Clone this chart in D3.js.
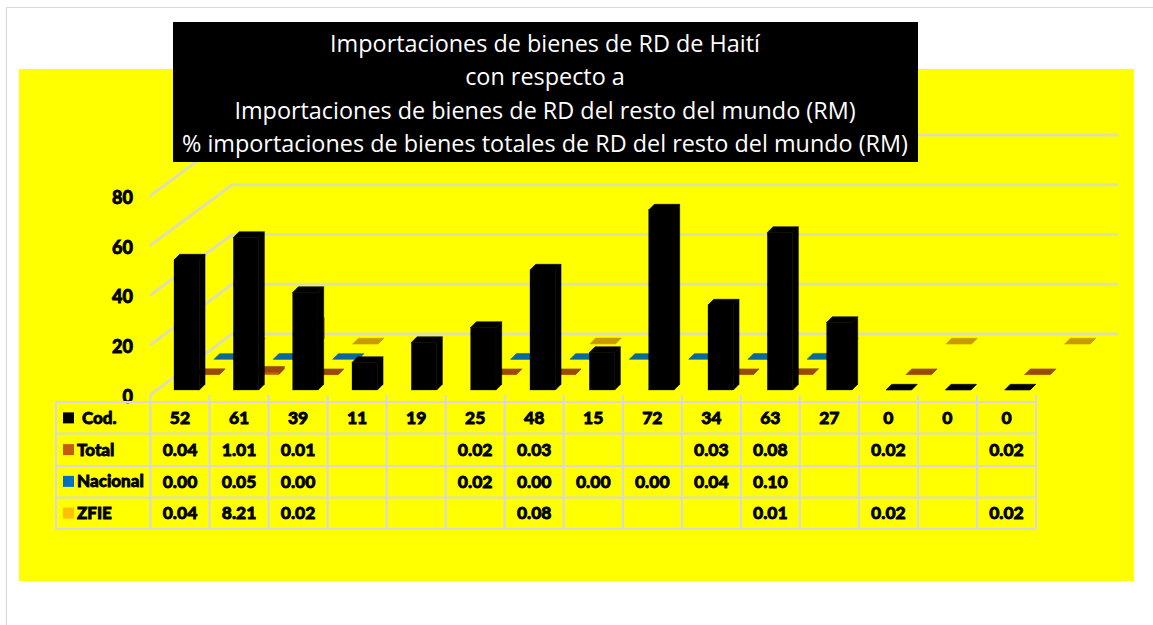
<!DOCTYPE html>
<html><head><meta charset="utf-8">
<script src="https://cdn.jsdelivr.net/npm/d3@7"></script>
<style>html,body{margin:0;background:#fff}svg{display:block}</style>
</head><body><svg id="c" width="1153" height="625"></svg>
<script>
const titleLines=["Importaciones de bienes de RD de Haití","con respecto a","Importaciones de bienes de RD del resto del mundo (RM)","% importaciones de bienes totales de RD del resto del mundo (RM)"];
const seriesNames=["Cod.","Total","Nacional","ZFIE"];
const cod=[52,61,39,11,19,25,48,15,72,34,63,27,0,0,0];
const total=[0.04,1.01,0.01,null,null,0.02,0.03,null,null,0.03,0.08,null,0.02,null,0.02];
const nacional=[0.00,0.05,0.00,null,null,0.02,0.00,0.00,0.00,0.04,0.10,null,null,null,null];
const zfie=[0.04,8.21,0.02,null,null,null,0.08,null,null,null,0.01,null,0.02,null,0.02];
const yTicks=[0,20,40,60,80];
const swatch=["#000000","#c55a11","#0070c0","#ffc000"];
const topCol=["#000000","#9a4a05","#0a6a9c","#c99a00"];
const sideCol=["#000000","#8a4208","#075a88","#b58a00"];
const frontCol=swatch;

const rows=[cod,total,nacional,zfie];
const svg=d3.select("#c");
const F="Lato, Carlito, sans-serif";
// page
svg.append("path").attr("d","M6.5,625V7.5H1153").attr("fill","none").attr("stroke","#d9d9d9").attr("stroke-width",1.2);
svg.append("rect").attr("x",19).attr("y",69).attr("width",1115).attr("height",512).attr("fill","#ffff00");

// scales
const cols=d3.range(cod.length);
const xCol=d3.scaleBand().domain(cols).range([150.5,1036]);
const xBar=d3.scaleBand().domain(cols).range([174,1064]);
const yFront=d3.scaleLinear().domain([0,80]).range([395,196]);
const hScale=d3.scaleLinear().domain([0,80]).range([0,200]);
const zx=d3.scalePoint().domain(seriesNames).range([0,60]);
const zy=d3.scalePoint().domain(seriesNames).range([390,344]);
const backDx=82,backDy=-61,wallRight=1118;
const gridC="#dfdfac";

// gridlines
const grid=svg.append("g").attr("fill","none").attr("stroke",gridC).attr("stroke-width",3);
grid.selectAll("path").data(yTicks).join("path")
  .attr("d",d=>{const y=yFront(d);return `M150,${y}L${150+backDx},${y+backDy}H${wallRight}`;});

// bars, back row first
const W=25.3,D=5.7;
[3,2,1,0].forEach(s=>{
  const g=svg.append("g");
  const name=seriesNames[s];
  const data=cols.filter(i=>rows[s][i]!==null).map(i=>({i,v:rows[s][i]}));
  data.forEach(d=>{
    const x=xBar(d.i)+zx(name);
    const b=zy(name), t=b-hScale(d.v);
    g.append("path").attr("fill",sideCol[s]).attr("stroke",sideCol[s]).attr("stroke-width",0.6)
      .attr("d",`M${x+W},${b}V${t}L${x+W+D},${t-D}V${b-D}Z`);
    g.append("rect").attr("x",x).attr("y",t).attr("width",W).attr("height",Math.max(0,b-t))
      .attr("fill",frontCol[s]).attr("stroke",frontCol[s]).attr("stroke-width",0.3);
    g.append("path").attr("fill",topCol[s]).attr("stroke",topCol[s]).attr("stroke-width",0.6)
      .attr("d",`M${x},${t}L${x+D},${t-D}H${x+W+D}L${x+W},${t}Z`);
  });
});

// y axis labels
const axis=svg.append("g").attr("transform","translate(150,1.5)")
  .call(d3.axisLeft(yFront).tickValues(yTicks).tickSize(0).tickPadding(17));
axis.select(".domain").remove();
axis.selectAll("text").attr("font-family",F).attr("font-weight",900).attr("font-size",18)
  .attr("fill","#000").attr("stroke","#000").attr("stroke-width",0.8);

// table
const rowY=[402,433.5,466,497.5,529];
const rowBand=d3.scaleBand().domain(seriesNames).range([rowY[0],rowY[4]]);
const tbl=svg.append("g").attr("stroke","#d9d9d9").attr("stroke-width",2.2).attr("fill","none");
rowY.forEach(y=>tbl.append("line").attr("x1",56).attr("x2",1036).attr("y1",y).attr("y2",y));
tbl.append("line").attr("x1",56).attr("x2",56).attr("y1",402).attr("y2",529);
d3.range(cod.length+1).forEach(i=>{
  const x=i<cod.length?xCol(i):xCol.range()[1];
  tbl.append("line").attr("x1",x).attr("x2",x).attr("y1",395).attr("y2",529);
});
const legendX=[82,77,77,77];
seriesNames.forEach((n,s)=>{
  const cy=rowBand(n)+rowBand.bandwidth()/2;
  svg.append("rect").attr("x",63).attr("y",cy-5.5).attr("width",11).attr("height",11).attr("fill",swatch[s]);
  svg.append("text").attr("x",legendX[s]).attr("y",cy).attr("dy","0.35em")
    .attr("font-family",F).attr("font-weight",900).attr("font-size",17).attr("fill","#000")
    .attr("stroke","#000").attr("stroke-width",0.8).text(n);
  rows[s].forEach((v,i)=>{
    if(v===null) return;
    svg.append("text").attr("x",xCol(i)+xCol.bandwidth()/2).attr("y",cy).attr("dy","0.35em")
      .attr("text-anchor","middle").attr("font-family",F).attr("font-weight",900).attr("font-size",17.5)
      .attr("fill","#000").attr("stroke","#000").attr("stroke-width",0.8)
      .text(s===0?d3.format("d")(v):d3.format(".2f")(v));
  });
});

// title
svg.append("rect").attr("x",173).attr("y",22).attr("width",745).attr("height",140).attr("fill","#000");
titleLines.forEach((t,i)=>{
  svg.append("text").attr("x",545).attr("y",44+i*33.2).attr("dy","0.35em").attr("text-anchor","middle")
    .attr("font-family","'Open Sans',sans-serif").attr("font-size",23.4).attr("fill","#fff").text(t);
});
</script></body></html>
